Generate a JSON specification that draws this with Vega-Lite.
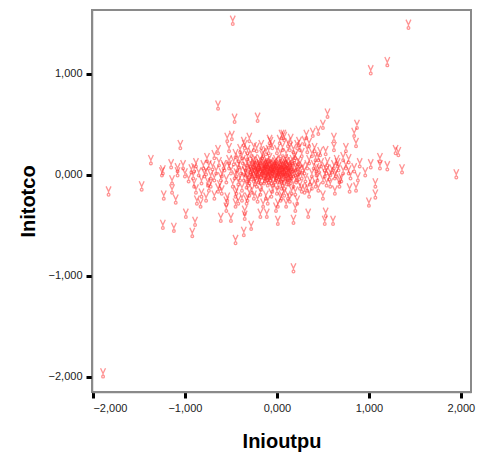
{
  "$schema": "https://vega.github.io/schema/vega-lite/v6.json",
  "width": 379,
  "height": 382,
  "padding": {"left": 92, "top": 10, "right": 6, "bottom": 62},
  "autosize": {"type": "none"},
  "background": "white",
  "config": {
    "view": {"stroke": "#8a8a8a", "strokeWidth": 2},
    "font": "Liberation Sans"
  },
  "data": {"values": [
    {"x":-0.48,"y":1.53},{"x":1.43,"y":1.49},{"x":1.2,"y":1.12},{"x":1.02,"y":1.04},{"x":-0.64,"y":0.69},{"x":0.18,"y":-0.92},{"x":-1.89,"y":-1.96},{"x":1.95,"y":0.01},{"x":-1.83,"y":-0.16},{"x":-1.47,"y":-0.11},{"x":-1.37,"y":0.15},{"x":1.32,"y":0.23},{"x":1.36,"y":0.06},
    {"x":-0.46,"y":0.56},{"x":-0.21,"y":0.57},{"x":-1.05,"y":0.3},{"x":-1.24,"y":0.05},{"x":-1.15,"y":0.11},{"x":-1.08,"y":0.07},{"x":-0.9,"y":0.07},{"x":-0.76,"y":0.17},{"x":-0.68,"y":0.2},{"x":-0.64,"y":0.25},{"x":-0.54,"y":0.37},{"x":-0.49,"y":0.39},{"x":-0.52,"y":0.27},{"x":-0.36,"y":0.33},{"x":-0.32,"y":0.25},{"x":-0.25,"y":0.28},{"x":-0.17,"y":0.3},{"x":-0.07,"y":0.33},{"x":-0.09,"y":0.25},{"x":-0.42,"y":0.17},{"x":-0.52,"y":0.15},{"x":-0.58,"y":0.1},{"x":-0.74,"y":0.1},
    {"x":0.55,"y":0.61},{"x":0.5,"y":0.5},{"x":0.45,"y":0.44},{"x":0.87,"y":0.5},{"x":0.84,"y":0.42},{"x":0.07,"y":0.4},{"x":0.32,"y":0.4},{"x":0.39,"y":0.42},{"x":0.62,"y":0.37},{"x":0.62,"y":0.28},{"x":0.86,"y":0.32},{"x":0.75,"y":0.27},{"x":0.53,"y":0.24},{"x":0.65,"y":0.15},{"x":0.72,"y":0.18},{"x":0.78,"y":0.16},{"x":0.66,"y":0.12},{"x":1.29,"y":0.25},{"x":1.12,"y":0.17},{"x":1.02,"y":0.11},{"x":1.12,"y":0.1},{"x":1.2,"y":0.09},{"x":0.96,"y":0.03},{"x":0.78,"y":0.05},{"x":0.35,"y":0.32},{"x":0.41,"y":0.27},{"x":0.47,"y":0.23},{"x":0.24,"y":0.33},{"x":0.14,"y":0.28},{"x":0.45,"y":0.18},{"x":0.54,"y":0.05},{"x":0.43,"y":0.07},{"x":0.58,"y":0.03},
    {"x":-1.25,"y":0.03},{"x":-1.08,"y":0.03},{"x":-1.14,"y":-0.05},{"x":-1.14,"y":-0.14},{"x":-1.23,"y":-0.2},{"x":-1.1,"y":-0.24},{"x":-0.91,"y":0.0},{"x":-0.9,"y":-0.08},{"x":-0.88,"y":-0.14},{"x":-0.82,"y":-0.18},{"x":-0.77,"y":-0.22},{"x":-0.87,"y":-0.25},{"x":-0.83,"y":-0.28},{"x":-0.79,"y":0.02},{"x":-0.75,"y":-0.07},{"x":-0.72,"y":-0.08},{"x":-0.99,"y":-0.38},{"x":-0.89,"y":-0.46},{"x":-1.24,"y":-0.49},{"x":-1.12,"y":-0.52},{"x":-0.92,"y":-0.57},{"x":-0.64,"y":-0.13},{"x":-0.54,"y":-0.22},{"x":-0.55,"y":-0.32},{"x":-0.45,"y":-0.28},{"x":-0.61,"y":-0.42},{"x":-0.5,"y":-0.42},{"x":-0.35,"y":-0.35},{"x":-0.35,"y":-0.4},{"x":-0.28,"y":-0.5},{"x":-0.36,"y":-0.56},{"x":-0.45,"y":-0.64},{"x":-0.18,"y":-0.38},{"x":-0.11,"y":-0.38},{"x":-0.01,"y":-0.32},{"x":0.01,"y":-0.45},{"x":-0.1,"y":-0.25},{"x":-0.21,"y":-0.23},{"x":-0.32,"y":-0.22},{"x":-0.42,"y":-0.25},{"x":-0.61,"y":-0.02},
    {"x":1.07,"y":-0.08},{"x":1.07,"y":-0.19},{"x":1.0,"y":-0.27},{"x":0.79,"y":-0.13},{"x":0.86,"y":-0.12},{"x":0.68,"y":-0.08},{"x":0.63,"y":-0.15},{"x":0.58,"y":-0.08},{"x":0.53,"y":-0.37},{"x":0.52,"y":-0.45},{"x":0.61,"y":-0.45},{"x":0.34,"y":-0.38},{"x":0.2,"y":-0.32},{"x":0.18,"y":-0.44},{"x":0.01,"y":-0.28},{"x":0.05,"y":-0.2},{"x":0.14,"y":-0.23},{"x":0.16,"y":-0.15},{"x":0.27,"y":-0.13},{"x":0.33,"y":-0.12},{"x":0.42,"y":-0.08},{"x":0.54,"y":-0.07},{"x":0.43,"y":0.03},{"x":0.52,"y":0.02},{"x":0.63,"y":0.0},{"x":0.68,"y":-0.04},{"x":0.05,"y":-0.1},
    {"x":-0.44,"y":0.02},{"x":-0.42,"y":-0.06},{"x":-0.41,"y":0.11},{"x":-0.39,"y":0.05},{"x":-0.38,"y":-0.12},{"x":-0.37,"y":0.15},{"x":-0.36,"y":-0.02},{"x":-0.34,"y":0.08},{"x":-0.33,"y":-0.09},{"x":-0.32,"y":0.19},{"x":-0.31,"y":0.01},{"x":-0.3,"y":-0.05},{"x":-0.29,"y":0.12},{"x":-0.28,"y":0.04},{"x":-0.27,"y":-0.14},{"x":-0.26,"y":0.09},{"x":-0.25,"y":-0.03},{"x":-0.24,"y":0.16},{"x":-0.23,"y":0.06},{"x":-0.22,"y":-0.08},{"x":-0.21,"y":0.02},{"x":-0.2,"y":0.13},{"x":-0.19,"y":-0.01},{"x":-0.18,"y":0.07},{"x":-0.17,"y":-0.11},{"x":-0.16,"y":0.2},{"x":-0.15,"y":0.03},{"x":-0.14,"y":-0.05},{"x":-0.13,"y":0.1},{"x":-0.12,"y":0.0},{"x":-0.11,"y":0.14},{"x":-0.1,"y":-0.07},{"x":-0.09,"y":0.05},{"x":-0.08,"y":0.17},{"x":-0.07,"y":-0.02},{"x":-0.06,"y":0.08},{"x":-0.05,"y":-0.13},{"x":-0.04,"y":0.11},{"x":-0.03,"y":0.03},{"x":-0.02,"y":-0.04},{"x":-0.01,"y":0.15},{"x":0.0,"y":0.06},{"x":0.01,"y":-0.09},{"x":0.02,"y":0.12},{"x":0.03,"y":0.01},{"x":0.04,"y":0.22},{"x":0.05,"y":-0.03},{"x":0.06,"y":0.09},{"x":0.07,"y":0.04},{"x":0.08,"y":-0.1},{"x":0.09,"y":0.16},{"x":0.1,"y":0.02},{"x":0.11,"y":-0.06},{"x":0.12,"y":0.1},{"x":0.13,"y":0.05},{"x":0.14,"y":-0.02},{"x":0.15,"y":0.13},{"x":0.16,"y":0.0},{"x":0.17,"y":0.07},{"x":0.18,"y":-0.08},{"x":0.19,"y":0.18},{"x":0.2,"y":0.03},{"x":0.21,"y":-0.04},{"x":0.22,"y":0.09},{"x":0.23,"y":0.14},{"x":0.24,"y":-0.01},{"x":0.25,"y":0.06},
    {"x":-0.43,"y":0.08},{"x":-0.4,"y":-0.02},{"x":-0.38,"y":0.2},{"x":-0.35,"y":0.04},{"x":-0.33,"y":0.13},{"x":-0.31,"y":-0.07},{"x":-0.29,"y":0.06},{"x":-0.27,"y":0.02},{"x":-0.26,"y":0.14},{"x":-0.24,"y":-0.06},{"x":-0.23,"y":0.1},{"x":-0.21,"y":0.04},{"x":-0.2,"y":-0.04},{"x":-0.19,"y":0.09},{"x":-0.18,"y":0.15},{"x":-0.17,"y":0.01},{"x":-0.15,"y":0.07},{"x":-0.14,"y":0.12},{"x":-0.13,"y":-0.03},{"x":-0.12,"y":0.05},{"x":-0.11,"y":0.09},{"x":-0.1,"y":0.01},{"x":-0.09,"y":-0.04},{"x":-0.08,"y":0.07},{"x":-0.07,"y":0.12},{"x":-0.06,"y":0.02},{"x":-0.05,"y":0.05},{"x":-0.04,"y":-0.07},{"x":-0.03,"y":0.09},{"x":-0.02,"y":0.13},{"x":-0.01,"y":0.0},{"x":0.0,"y":0.1},{"x":0.01,"y":0.04},{"x":0.02,"y":-0.01},{"x":0.03,"y":0.08},{"x":0.04,"y":0.14},{"x":0.05,"y":0.02},{"x":0.06,"y":-0.07},{"x":0.07,"y":0.11},{"x":0.08,"y":0.05},{"x":0.09,"y":0.0},{"x":0.1,"y":0.08},{"x":0.11,"y":0.13},{"x":0.12,"y":-0.02},{"x":0.13,"y":0.1},{"x":0.14,"y":0.04},{"x":0.15,"y":-0.05},{"x":0.16,"y":0.09},{"x":0.17,"y":0.15},{"x":0.18,"y":0.02},{"x":0.2,"y":0.08},{"x":0.22,"y":-0.02},{"x":0.23,"y":0.04},{"x":0.25,"y":0.12},{"x":0.27,"y":0.0},{"x":0.28,"y":0.08},{"x":0.3,"y":0.05},{"x":0.31,"y":-0.03},{"x":0.33,"y":0.1},
    {"x":-0.34,"y":0.03},{"x":-0.32,"y":-0.03},{"x":-0.3,"y":0.09},{"x":-0.28,"y":-0.01},{"x":-0.26,"y":0.05},{"x":-0.25,"y":0.11},{"x":-0.23,"y":0.0},{"x":-0.22,"y":0.07},{"x":-0.2,"y":0.03},{"x":-0.19,"y":0.11},{"x":-0.18,"y":-0.05},{"x":-0.16,"y":0.05},{"x":-0.15,"y":0.1},{"x":-0.14,"y":0.0},{"x":-0.13,"y":0.06},{"x":-0.12,"y":0.12},{"x":-0.11,"y":-0.02},{"x":-0.1,"y":0.04},{"x":-0.09,"y":0.1},{"x":-0.08,"y":0.0},{"x":-0.07,"y":0.06},{"x":-0.06,"y":-0.05},{"x":-0.05,"y":0.09},{"x":-0.04,"y":0.02},{"x":-0.03,"y":0.06},{"x":-0.02,"y":0.1},{"x":-0.01,"y":-0.02},{"x":0.0,"y":0.03},{"x":0.01,"y":0.08},{"x":0.02,"y":0.05},{"x":0.03,"y":-0.04},{"x":0.04,"y":0.06},{"x":0.05,"y":0.11},{"x":0.06,"y":0.03},{"x":0.07,"y":-0.01},{"x":0.08,"y":0.09},{"x":0.09,"y":0.04},{"x":0.1,"y":-0.03},{"x":0.11,"y":0.06},{"x":0.12,"y":0.03},{"x":0.13,"y":-0.06},{"x":0.14,"y":0.08},{"x":0.15,"y":0.02},{"x":-0.24,"y":0.02},{"x":-0.21,"y":0.09},{"x":-0.17,"y":0.04},{"x":-0.13,"y":0.08},{"x":-0.1,"y":0.11},{"x":-0.07,"y":0.03},{"x":-0.04,"y":0.07},{"x":0.0,"y":0.0},{"x":0.03,"y":0.04},{"x":0.06,"y":0.06},{"x":0.09,"y":0.12},
    {"x":-0.5,"y":0.05},{"x":-0.48,"y":-0.08},{"x":-0.47,"y":0.14},{"x":-0.46,"y":0.0},{"x":-0.45,"y":0.21},{"x":-0.44,"y":-0.15},{"x":-0.52,"y":0.1},{"x":-0.55,"y":-0.04},{"x":-0.57,"y":0.08},{"x":-0.6,"y":0.02},{"x":-0.62,"y":-0.1},{"x":-0.63,"y":0.13},{"x":-0.66,"y":0.05},{"x":-0.68,"y":-0.02},{"x":-0.7,"y":0.09},{"x":-0.72,"y":0.0},{"x":-0.74,"y":-0.12},{"x":-0.77,"y":0.04},{"x":-0.8,"y":0.1},{"x":-0.82,"y":-0.05},{"x":-0.85,"y":0.03},{"x":-0.88,"y":0.12},{"x":-0.93,"y":0.06},{"x":-0.96,"y":-0.03},{"x":-1.0,"y":0.02},{"x":-1.02,"y":0.1},
    {"x":0.35,"y":0.15},{"x":0.36,"y":-0.06},{"x":0.38,"y":0.02},{"x":0.4,"y":0.1},{"x":0.42,"y":0.18},{"x":0.44,"y":-0.02},{"x":0.46,"y":0.06},{"x":0.48,"y":0.12},{"x":0.5,"y":-0.04},{"x":0.52,"y":0.08},{"x":0.55,"y":0.13},{"x":0.57,"y":-0.01},{"x":0.6,"y":0.06},{"x":0.62,"y":0.1},{"x":0.64,"y":0.02},{"x":0.67,"y":0.08},{"x":0.7,"y":-0.03},{"x":0.72,"y":0.05},{"x":0.75,"y":0.1},{"x":0.8,"y":0.0},{"x":0.84,"y":0.07},{"x":0.88,"y":-0.02},{"x":0.9,"y":0.12},
    {"x":-0.4,"y":0.26},{"x":-0.35,"y":0.3},{"x":-0.28,"y":0.22},{"x":-0.22,"y":0.27},{"x":-0.12,"y":0.24},{"x":-0.05,"y":0.3},{"x":0.0,"y":0.25},{"x":0.03,"y":0.35},{"x":0.06,"y":0.28},{"x":0.1,"y":0.22},{"x":0.12,"y":0.32},{"x":0.18,"y":0.26},{"x":0.22,"y":0.3},{"x":0.27,"y":0.22},{"x":0.3,"y":0.34},{"x":0.33,"y":0.26},{"x":0.38,"y":0.22},{"x":0.05,"y":0.4},{"x":0.08,"y":0.38},{"x":-0.08,"y":0.35},{"x":-0.15,"y":0.22},{"x":-0.3,"y":0.37},{"x":0.15,"y":0.36},{"x":0.2,"y":0.2},{"x":0.25,"y":0.28},
    {"x":-0.45,"y":-0.18},{"x":-0.38,"y":-0.22},{"x":-0.3,"y":-0.17},{"x":-0.25,"y":-0.2},{"x":-0.18,"y":-0.16},{"x":-0.12,"y":-0.2},{"x":-0.06,"y":-0.18},{"x":0.0,"y":-0.15},{"x":0.04,"y":-0.22},{"x":0.08,"y":-0.17},{"x":0.12,"y":-0.2},{"x":0.2,"y":-0.16},{"x":0.25,"y":-0.1},{"x":0.3,"y":-0.14},{"x":0.35,"y":-0.18},{"x":0.38,"y":-0.1},{"x":-0.6,"y":-0.15},{"x":-0.68,"y":-0.2},{"x":-0.55,"y":-0.26},{"x":-0.33,"y":-0.25},{"x":-0.15,"y":-0.28},{"x":0.1,"y":-0.28},{"x":0.22,"y":-0.25},{"x":0.45,"y":-0.12},{"x":0.5,"y":-0.2}
  ]},
  "mark": {
    "type": "point",
    "shape": "M-0.55,-1L0,0.15L0.55,-1M0,0.15L0,0.55A0.3,0.3 0 1 0 0.01,0.55",
    "size": 81,
    "filled": false,
    "stroke": "#ff2a2a",
    "strokeWidth": 1.3,
    "opacity": 0.5
  },
  "encoding": {
    "x": {
      "field": "x", "type": "quantitative", "title": "Inioutpu",
      "scale": {"domain": [-2.01, 2.11], "nice": false, "zero": false},
      "axis": {
        "values": [-2, -1, 0, 1, 2], "format": ",.3f", "labelExpr": "replace(replace(replace(datum.label, ',', '#'), '.', ','), '#', '.')",
        "grid": false, "domainColor": "#8a8a8a", "domainWidth": 1.5,
        "tickColor": "#000", "tickWidth": 3, "tickSize": 6,
        "labelFont": "Liberation Sans", "labelFontSize": 11, "labelColor": "#222", "labelPadding": 4,
        "titleFont": "Liberation Sans", "titleFontSize": 20, "titleFontWeight": "bold", "titleColor": "#000", "titlePadding": 18
      }
    },
    "y": {
      "field": "y", "type": "quantitative", "title": "Initotco",
      "scale": {"domain": [-2.15, 1.63], "nice": false, "zero": false},
      "axis": {
        "values": [-2, -1, 0, 1], "format": ".3f", "labelExpr": "replace(datum.label, '.', ',')",
        "grid": false, "domainColor": "#8a8a8a", "domainWidth": 1.5,
        "tickColor": "#000", "tickWidth": 3, "tickSize": 6,
        "labelFont": "Liberation Sans", "labelFontSize": 11, "labelColor": "#222", "labelPadding": 4,
        "titleFont": "Liberation Sans", "titleFontSize": 20, "titleFontWeight": "bold", "titleColor": "#000", "titlePadding": 10
      }
    }
  }
}
